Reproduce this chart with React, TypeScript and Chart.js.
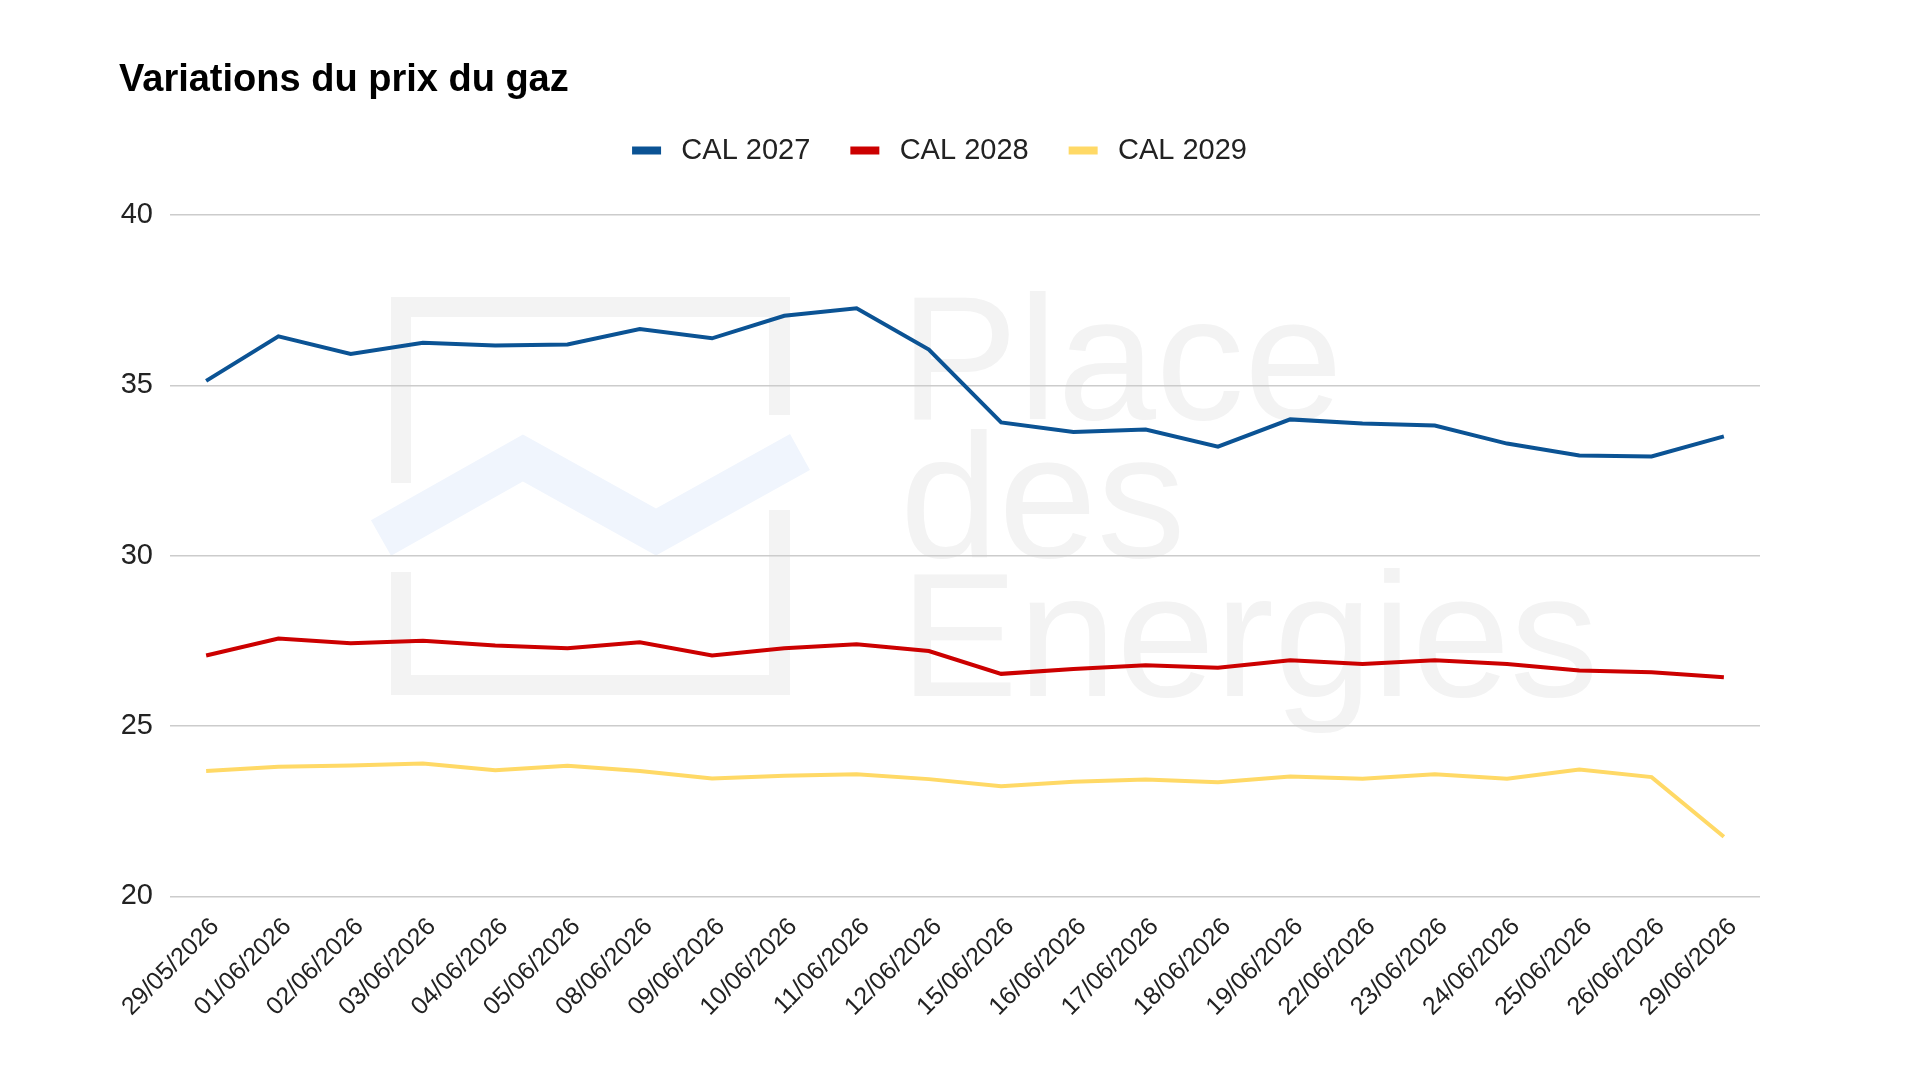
import { useEffect, useRef } from "react";
import { Chart, registerables } from "chart.js";

Chart.register(...registerables);

const labels = [
  "29/05/2026", "01/06/2026", "02/06/2026", "03/06/2026", "04/06/2026",
  "05/06/2026", "08/06/2026", "09/06/2026", "10/06/2026", "11/06/2026",
  "12/06/2026", "15/06/2026", "16/06/2026", "17/06/2026", "18/06/2026",
  "19/06/2026", "22/06/2026", "23/06/2026", "24/06/2026", "25/06/2026",
  "26/06/2026", "29/06/2026",
];

const cal2027 = [
  35.13, 36.44, 35.92, 36.25, 36.17, 36.2, 36.65, 36.38, 37.04, 37.26,
  36.05, 33.91, 33.63, 33.7, 33.2, 34.0, 33.88, 33.82, 33.29, 32.94,
  32.91, 33.5,
];
const cal2028 = [
  27.07, 27.57, 27.43, 27.5, 27.36, 27.28, 27.46, 27.07, 27.28, 27.4,
  27.2, 26.53, 26.67, 26.78, 26.71, 26.93, 26.82, 26.93, 26.82, 26.63,
  26.58, 26.43,
];
const cal2029 = [
  23.68, 23.8, 23.84, 23.9, 23.7, 23.83, 23.68, 23.46, 23.54, 23.58,
  23.44, 23.23, 23.36, 23.43, 23.35, 23.52, 23.45, 23.58, 23.45, 23.72,
  23.5, 21.75,
];

const seriesNames = ["CAL 2027", "CAL 2028", "CAL 2029"];
const seriesColors = ["#0b5394", "#cc0000", "#ffd966"];
const yTicks = [20, 25, 30, 35, 40];

const FONT = "'Liberation Sans', Arial, sans-serif";

// faint "Place des Energies" logo behind the grid
const watermark = {
  id: "watermark",
  beforeDraw(chart: Chart) {
    const { ctx } = chart;
    ctx.save();
    ctx.fillStyle = "#f3f3f3";
    // open square
    ctx.fillRect(391, 297, 399, 20);
    ctx.fillRect(391, 675, 399, 20);
    ctx.fillRect(391, 297, 20, 186);
    ctx.fillRect(391, 572, 20, 123);
    ctx.fillRect(769, 297, 21, 118);
    ctx.fillRect(769, 510, 21, 185);
    // chevron
    ctx.strokeStyle = "#f0f5fd";
    ctx.lineWidth = 41;
    ctx.lineJoin = "miter";
    ctx.beginPath();
    ctx.moveTo(381, 538);
    ctx.lineTo(523, 458);
    ctx.lineTo(656, 532);
    ctx.lineTo(800, 452);
    ctx.stroke();
    // text
    ctx.font = `177px ${FONT}`;
    ctx.textBaseline = "alphabetic";
    ctx.textAlign = "left";
    ctx.fillText("Place", 900, 419);
    ctx.fillText("des", 900, 557);
    ctx.fillText("Energies", 900, 696);
    ctx.restore();
  },
};

// extra space between the legend and the plot
const legendMargin = {
  id: "legendMargin",
  beforeInit(chart: any) {
    const fit = chart.legend.fit;
    chart.legend.fit = function () {
      fit.bind(chart.legend)();
      this.height += 40;
    };
  },
};

export default function App() {
  const canvasRef = useRef<HTMLCanvasElement>(null);

  useEffect(() => {
    if (!canvasRef.current) return;
    const series = [cal2027, cal2028, cal2029];

    const chart = new Chart(canvasRef.current, {
      type: "line",
      data: {
        labels,
        datasets: series.map((data, i) => ({
          label: seriesNames[i],
          data,
          borderColor: seriesColors[i],
          backgroundColor: seriesColors[i],
          borderWidth: 4,
          pointRadius: 0,
          tension: 0,
        })),
      },
      options: {
        animation: false,
        responsive: true,
        maintainAspectRatio: false,
        layout: { padding: { left: 119, right: 160, top: 0, bottom: 50 } },
        plugins: {
          title: {
            display: true,
            text: "Variations du prix du gaz",
            align: "start",
            color: "#000",
            font: { family: FONT, size: 38, weight: "bold", lineHeight: 1 },
            padding: { top: 62, bottom: -4 },
          },
          legend: {
            position: "top",
            align: "center",
            labels: {
              font: { family: FONT, size: 29, lineHeight: 1 },
              color: "#222",
              boxWidth: 29,
              boxHeight: 8,
              padding: 40,
              generateLabels: (c: Chart) =>
                Chart.defaults.plugins.legend.labels
                  .generateLabels(c)
                  .map((item) => ({ ...item, text: "\u2009" + item.text, lineWidth: 0 })),
            },
          },
          tooltip: { enabled: false },
        },
        scales: {
          x: {
            offset: true,
            grid: { display: false },
            border: { display: false },
            afterFit: (scale) => {
              scale.paddingLeft = 0;
            },
            ticks: {
              autoSkip: false,
              minRotation: 45,
              maxRotation: 45,
              labelOffset: 9,
              color: "#222",
              padding: 8,
              font: { family: FONT, size: 25 },
            },
          },
          y: {
            min: 20,
            max: 40,
            afterBuildTicks: (scale) => {
              scale.ticks = yTicks.map((value) => ({ value }));
            },
            afterFit: (scale) => {
              scale.width = 51;
            },
            grid: { color: "#cccccc", lineWidth: 1.5, drawTicks: false },
            border: { display: false },
            ticks: {
              color: "#222",
              padding: 17,
              font: { family: FONT, size: 29 },
            },
          },
        },
      },
      plugins: [watermark, legendMargin],
    });

    return () => chart.destroy();
  }, []);

  return (
    <div
      style={{
        position: "fixed",
        left: 0,
        top: 0,
        width: 1920,
        height: 1080,
        background: "#fff",
      }}
    >
      <canvas ref={canvasRef} />
    </div>
  );
}
